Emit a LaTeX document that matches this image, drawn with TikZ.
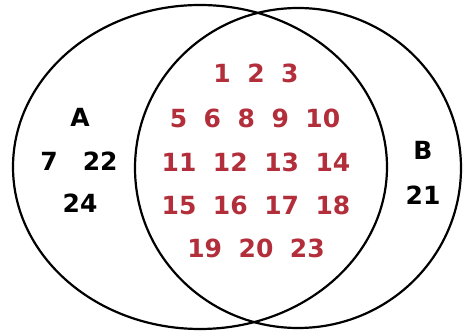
\documentclass[tikz,border=0pt]{standalone}
\usepackage{fontspec}
\setmainfont{DejaVu Sans}
\definecolor{shared}{RGB}{178,46,58}

\begin{document}
\begin{tikzpicture}[x=1pt, y=-1pt,
    members/.style={inner sep=0pt, font=\fontsize{25}{25}\selectfont\bfseries,
      execute at begin node={\spaceskip=16.5pt\relax}},
    inner/.style={members, text=shared}]
  \useasboundingbox (0,0) rectangle (464,331);

  % the two sets
  \draw[line width=2.2pt] (200,167) ellipse [x radius=187, y radius=162];
  \draw[line width=2.2pt] (298,168) ellipse [x radius=163, y radius=160];

  % only in A
  \node[members] (nameA) at (80,117) {A};
  \node[members] (onlyA1) at (79,161) {7\hspace{25pt}22};
  \node[members] (onlyA2) at (80,203) {24};

  % only in B
  \node[members] (nameB) at (423,150) {B};
  \node[members] (onlyB) at (423,195) {21};

  % in both
  \node[inner] (row1) at (256,73) {1 2 3};
  \node[inner] (row2) at (255,118) {5 6 8 9 10};
  \node[inner] (row3) at (256,162) {11 12 13 14};
  \node[inner] (row4) at (256,205) {15 16 17 18};
  \node[inner] (row5) at (256,248) {19 20 23};
\end{tikzpicture}
\end{document}
